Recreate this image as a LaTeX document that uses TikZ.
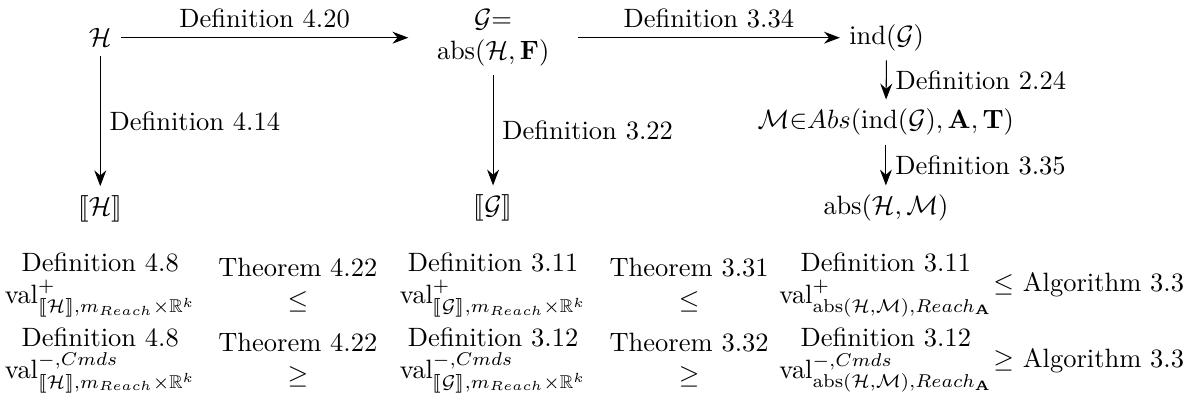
\documentclass[tikz,border=0pt]{standalone}
\usepackage{amsmath, amssymb, bm}
\usepackage{stmaryrd}
\usetikzlibrary{arrows.meta, positioning}

\begin{document}
\begin{tikzpicture}[
	arr/.style={-{Stealth[length=6pt,width=4.5pt]}},
	cell/.style={align=center,inner ysep=1pt}
]
\useasboundingbox (0,0) rectangle (15.81,-5.345);
% upper part: the chain of constructions
\node (hyb) at (1.33,-0.50) {$\mathcal{H}$};
\node[text width=2cm,align=center] (game) at (6.54,-0.50) {$\mathcal{G}{=}$\\$\mathrm{abs}(\mathcal{H},\mathbf{F})$};
\node (ind) at (11.76,-0.50) {$\mathrm{ind}(\mathcal{G})$};
\node (absM) at (11.75,-1.62) {$\mathcal{M}{\in}Abs(\mathrm{ind}(\mathcal{G}),\mathbf{A},\mathbf{T})$};
\node (absHM) at (11.75,-2.76) {$\mathrm{abs}(\mathcal{H},\mathcal{M})$};
\node (semH) at (1.33,-2.77) {$\llbracket\mathcal{H}\rrbracket$};
\node (semG) at (6.54,-2.76) {$\llbracket\mathcal{G}\rrbracket$};
\draw[arr] (hyb) -- node[above] {Definition 4.20} (game);
\draw[arr] (game) -- node[above] {Definition 3.34} (ind);
\draw[arr] (hyb) -- node[right] {Definition 4.14} (semH);
\draw[arr] (game) -- node[right] {Definition 3.22} (semG);
\draw[arr] (ind) -- node[right] {Definition 2.24} (absM);
\draw[arr] (absM) -- node[right] {Definition 3.35} (absHM);
% lower part: the value bounds
\node[cell] (valHup) at (1.33,-3.78) {Definition 4.8\\$\mathrm{val}^{+}_{\llbracket\mathcal{H}\rrbracket,m_{Reach}\times\mathbb{R}^k}$};
\node[cell] (thmHup) at (3.95,-3.78) {Theorem 4.22\\$\leq$};
\node[cell] (valGup) at (6.54,-3.78) {Definition 3.11\\$\mathrm{val}^{+}_{\llbracket\mathcal{G}\rrbracket,m_{Reach}\times\mathbb{R}^k}$};
\node[cell] (thmGup) at (9.14,-3.78) {Theorem 3.31\\$\leq$};
\node[cell] (valMup) at (11.75,-3.78) {Definition 3.11\\$\mathrm{val}^{+}_{\mathrm{abs}(\mathcal{H},\mathcal{M}),Reach_{\mathbf{A}}}$};
\node[right=-2.35mm of valMup] (algUp) {$\leq$ Algorithm 3.3};
\node[cell] (valHlow) at (1.33,-4.78) {Definition 4.8\\$\mathrm{val}^{-,Cmds}_{\llbracket\mathcal{H}\rrbracket,m_{Reach}\times\mathbb{R}^k}$};
\node[cell] (thmHlow) at (3.95,-4.78) {Theorem 4.22\\$\geq$};
\node[cell] (valGlow) at (6.54,-4.78) {Definition 3.12\\$\mathrm{val}^{-,Cmds}_{\llbracket\mathcal{G}\rrbracket,m_{Reach}\times\mathbb{R}^k}$};
\node[cell] (thmGlow) at (9.14,-4.78) {Theorem 3.32\\$\geq$};
\node[cell] (valMlow) at (11.75,-4.78) {Definition 3.12\\$\mathrm{val}^{-,Cmds}_{\mathrm{abs}(\mathcal{H},\mathcal{M}),Reach_{\mathbf{A}}}$};
\node[right=-2.35mm of valMlow] (algLow) {$\geq$ Algorithm 3.3};
\end{tikzpicture}
\end{document}
